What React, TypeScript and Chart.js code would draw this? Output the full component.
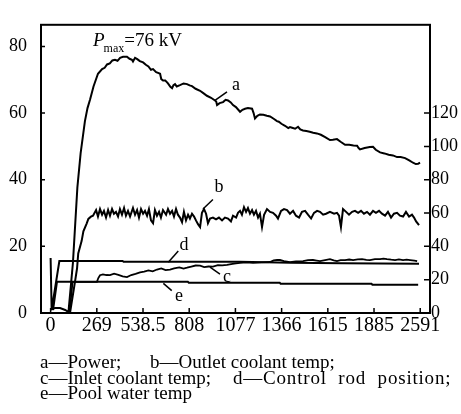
import React, { useEffect, useRef } from "react";
import { Chart, registerables } from "chart.js";

Chart.register(...registerables);

const FONT = '"Liberation Serif", "Times New Roman", serif';

// x axis: time (s); tick positions and printed labels
const xTickTimes = [0, 269.25, 538.5, 807.75, 1077, 1346.25, 1615.5, 1884.75, 2154];
const xTickLabels = ["0", "269", "538.5", "808", "1077", "1366", "1615", "1885", "2591"];
const leftTicks = [0, 20, 40, 60, 80];
const rightTicks = [0, 20, 40, 60, 80, 100, 120];

// a — Power (kW), left axis
const powerSeries: number[][] = [
  [0, 1.0], [25, 1.5], [55, 1.5], [85, 0.9], [104, 0.3], [130, 15], [156, 37.7], [175, 48], [200, 57.6],
  [215, 61.5], [230, 64.1], [250, 68], [276, 71.8], [300, 73.2], [315, 73.6], [329, 74.6], [345, 74.9],
  [360, 75.8], [375, 76.0], [390, 75.7], [405, 76.6], [422, 76.9], [445, 76.9], [460, 76.3], [474, 76.0],
  [480, 75.5], [492, 76.6], [505, 76.2], [520, 75.6], [539, 75.2], [555, 74.5], [570, 74.0], [585, 73.0],
  [597, 73.2], [615, 72.3], [630, 72.0], [638, 71.8], [645, 70.2], [655, 69.8], [668, 69.8], [684, 68.9],
  [698, 67.9], [708, 67.5], [716, 68.4], [725, 68.7], [735, 68.0], [754, 68.4], [775, 68.9], [795, 68.7],
  [810, 68.3], [824, 68.1], [845, 67.3], [871, 66.7], [890, 66.0], [911, 65.2], [935, 64.6], [958, 63.8],
  [965, 63.5], [970, 62.4], [985, 63.0], [1005, 63.3], [1020, 64.0], [1034, 63.8], [1050, 63.2], [1063, 62.4],
  [1080, 61.8], [1104, 60.4], [1118, 61.0], [1133, 61.3], [1150, 61.5], [1174, 61.3], [1183, 60.0], [1191, 58.4],
  [1205, 59.2], [1220, 59.6], [1240, 59.5], [1260, 59.2], [1279, 59.0], [1300, 58.3], [1319, 57.6], [1330, 57.4],
  [1345, 56.8], [1366, 56.2], [1385, 55.5], [1395, 55.8], [1407, 55.6], [1425, 55.3], [1442, 55.9], [1455, 55.1],
  [1471, 54.8], [1490, 54.6], [1510, 54.4], [1530, 54.1], [1552, 53.9], [1575, 53.5], [1600, 52.8], [1628, 51.9],
  [1645, 52.0], [1669, 52.2], [1690, 51.4], [1716, 50.5], [1740, 50.5], [1765, 50.3], [1786, 50.2], [1795, 49.5],
  [1803, 49.1], [1830, 49.5], [1860, 49.8], [1879, 49.9], [1895, 49.0], [1920, 48.2], [1945, 47.9], [1970, 47.5],
  [1995, 47.3], [2019, 46.8], [2040, 46.8], [2066, 46.5], [2090, 45.8], [2112, 45.1], [2128, 44.7], [2142, 44.8],
  [2153, 45.1],
];

// b — Outlet coolant temp (°C), right axis
const outletSeries: number[][] = [
  [113, 0], [142, 18.7], [154, 26.7], [161, 35.7], [181, 43.3], [191, 49], [210, 53.7], [220, 56.5], [235, 57.8],
  [247, 58.4], [265, 61.8], [276, 57.9], [288, 62.4], [300, 59.0], [311, 61.3], [323, 57.3], [335, 61.8],
  [346, 58.4], [358, 62.4], [369, 59.6], [381, 60.7], [393, 57.9], [404, 62.4], [416, 59.0], [428, 63.0],
  [439, 58.4], [451, 61.3], [463, 57.9], [480, 63.0], [492, 59.0], [504, 61.8], [515, 57.3], [527, 62.4],
  [539, 59.6], [550, 61.3], [562, 58.4], [573, 62.4], [585, 55.6], [597, 53.9], [608, 61.8], [620, 58.4],
  [632, 60.7], [643, 57.3], [655, 61.8], [673, 59.0], [684, 62.4], [696, 59.6], [708, 61.3], [719, 57.9],
  [731, 62.4], [742, 59.0], [754, 57.3], [766, 54.5], [777, 60.7], [789, 55.6], [801, 59.0], [812, 56.7],
  [824, 59.6], [836, 57.9], [847, 55.6], [859, 53.3], [871, 51.6], [882, 60.1], [894, 62.4], [906, 59.6],
  [917, 53.9], [929, 56.7], [946, 57.3], [964, 56.2], [981, 57.3], [999, 55.6], [1016, 57.3], [1034, 56.7],
  [1051, 55.0], [1063, 58.4], [1081, 57.3], [1092, 60.1], [1104, 61.3], [1115, 59.0], [1127, 63.5], [1139, 60.7],
  [1150, 63.0], [1162, 59.6], [1174, 61.8], [1185, 59.0], [1197, 61.3], [1209, 57.3], [1220, 59.6], [1232, 51.6],
  [1244, 59.0], [1261, 62.4], [1279, 60.7], [1296, 60.1], [1314, 58.4], [1325, 56.7], [1343, 61.3], [1360, 62.4],
  [1378, 61.8], [1395, 59.6], [1413, 61.3], [1430, 58.4], [1448, 57.3], [1465, 60.7], [1483, 61.3], [1500, 59.0],
  [1518, 56.7], [1535, 60.1], [1553, 61.3], [1570, 60.7], [1588, 59.0], [1605, 59.6], [1628, 60.7], [1652, 59.6],
  [1669, 60.1], [1681, 58.4], [1692, 51.6], [1704, 62.4], [1722, 60.7], [1739, 59.0], [1757, 60.7], [1774, 61.3],
  [1792, 60.1], [1809, 61.3], [1826, 59.6], [1844, 60.7], [1861, 59.0], [1879, 61.3], [1896, 60.1], [1914, 61.3],
  [1931, 59.6], [1949, 58.4], [1966, 60.7], [1984, 57.3], [2001, 59.6], [2019, 60.1], [2036, 58.4], [2054, 57.9],
  [2071, 60.7], [2089, 57.9], [2106, 59.0], [2118, 57.3], [2130, 55.0], [2147, 52.7],
];

// c — Inlet coolant temp (°C), right axis
const inletSeries: number[][] = [
  [110, 0], [128, 18.7], [270, 18.7], [278, 21.0], [288, 22.7], [305, 23.2], [325, 22.8], [346, 22.7], [370, 23.6],
  [395, 22.9], [420, 22.0], [445, 21.6], [470, 22.8], [495, 23.5], [521, 24.4], [545, 24.9], [570, 25.6],
  [595, 25.0], [620, 26.1], [645, 26.8], [670, 25.8], [696, 26.1], [720, 26.8], [750, 27.4], [775, 26.7],
  [795, 27.2], [820, 27.9], [845, 28.5], [871, 28.4], [895, 27.5], [920, 27.9], [946, 27.8], [975, 28.7],
  [1000, 28.6], [1028, 28.9], [1060, 29.5], [1080, 29.8], [1104, 30.1], [1140, 30.4], [1180, 30.1], [1230, 30.4],
  [1279, 30.6], [1300, 31.6], [1320, 31.8], [1337, 31.8], [1360, 31.1], [1395, 30.6], [1430, 31.0], [1471, 31.2],
  [1500, 31.7], [1529, 31.8], [1550, 31.5], [1570, 31.2], [1600, 31.8], [1628, 32.3], [1650, 31.6], [1669, 31.2],
  [1690, 31.7], [1716, 31.8], [1740, 32.1], [1763, 31.8], [1790, 32.2], [1815, 32.3], [1840, 31.9], [1861, 31.8],
  [1890, 32.3], [1920, 32.3], [1940, 32.6], [1960, 32.3], [1985, 32.0], [2007, 31.8], [2030, 32.2], [2054, 31.8],
  [2075, 32.0], [2095, 31.8], [2120, 31.5], [2136, 31.2],
];

// d — Control rod position, left axis
const rodSeries: number[][] = [
  [0, 16.5], [6, 0.9], [51, 15.6], [420, 15.6], [425, 15.4], [1100, 15.4], [1400, 15.1], [1700, 14.9], [2147, 14.8],
];

// e — Pool water temp (°C), right axis
const poolSeries: number[][] = [
  [14, 1.7], [37, 18.7], [800, 18.7], [805, 18.2], [1335, 18.2], [1340, 17.6], [1870, 17.6], [1875, 17.0], [2142, 17.0],
];

// curve labels with leader lines: [t, value] on the given axis
const curveLabels = [
  { text: "a", axis: "y", from: [958, 63.8], to: [1028, 66.4], at: [1080, 66.9] },
  { text: "b", axis: "y1", from: [888, 62.4], to: [946, 68.1], at: [981, 72.6] },
  { text: "c", axis: "y1", from: [929, 27.6], to: [987, 23.4], at: [1028, 18.7] },
  { text: "d", axis: "y", from: [686, 15.2], to: [744, 18.6], at: [777, 18.8] },
  { text: "e", axis: "y1", from: [657, 17.8], to: [706, 13.4], at: [748, 7.4] },
];
const peakNote = { at: [247, 80.1], symbol: "P", sub: "max", rest: "=76 kV" };

const legendRows = [
  ["a\u2014Power;", "b\u2014Outlet coolant temp;"],
  ["c\u2014Inlet coolant temp;", "d\u2014Control rod position;"],
  ["e\u2014Pool water temp"],
];
const legendLefts = [[40, 150], [40, 233], [40]];
const legendTops = [353, 369, 384];

const toXY = (arr: number[][]) => arr.map(([x, y]) => ({ x, y }));

const framePlugin = {
  id: "frameAndNotes",
  afterDraw(chart: any) {
    const { ctx, chartArea: a, scales } = chart;
    ctx.save();
    ctx.strokeStyle = "#000";
    ctx.lineWidth = 2;
    ctx.strokeRect(a.left, a.top, a.right - a.left, a.bottom - a.top);
    ctx.lineWidth = 1.5;
    ctx.beginPath();
    leftTicks.forEach((v) => {
      const y = scales.y.getPixelForValue(v);
      ctx.moveTo(a.left, y);
      ctx.lineTo(a.left + 4, y);
    });
    rightTicks.forEach((v) => {
      const y = scales.y1.getPixelForValue(v);
      ctx.moveTo(a.right, y);
      ctx.lineTo(a.right - 6, y);
    });
    xTickTimes.forEach((t) => {
      const x = scales.x.getPixelForValue(t);
      ctx.moveTo(x, a.bottom);
      ctx.lineTo(x, a.bottom - 5);
    });
    ctx.stroke();

    ctx.fillStyle = "#000";
    ctx.font = `18px ${FONT}`;
    ctx.textAlign = "center";
    ctx.textBaseline = "alphabetic";
    curveLabels.forEach((l) => {
      const ys = scales[l.axis];
      ctx.beginPath();
      ctx.moveTo(scales.x.getPixelForValue(l.from[0]), ys.getPixelForValue(l.from[1]));
      ctx.lineTo(scales.x.getPixelForValue(l.to[0]), ys.getPixelForValue(l.to[1]));
      ctx.stroke();
      ctx.fillText(l.text, scales.x.getPixelForValue(l.at[0]), ys.getPixelForValue(l.at[1]));
    });

    const px = scales.x.getPixelForValue(peakNote.at[0]);
    const py = scales.y.getPixelForValue(peakNote.at[1]);
    ctx.textAlign = "left";
    ctx.font = `italic 19px ${FONT}`;
    ctx.fillText(peakNote.symbol, px, py);
    const w1 = ctx.measureText(peakNote.symbol).width;
    ctx.font = `12px ${FONT}`;
    ctx.fillText(peakNote.sub, px + w1 - 1, py + 6);
    const w2 = ctx.measureText(peakNote.sub).width;
    ctx.font = `19px ${FONT}`;
    ctx.fillText(peakNote.rest, px + w1 + w2 - 1, py);
    ctx.restore();
  },
};

export default function App() {
  const ref = useRef<HTMLCanvasElement>(null);
  useEffect(() => {
    if (!ref.current) return;
    const line = (data: number[][], axis: string, width = 2) => ({
      data: toXY(data),
      yAxisID: axis,
      borderColor: "#000",
      borderWidth: width,
      pointRadius: 0,
      tension: 0,
      fill: false,
    });
    const chart = new Chart(ref.current, {
      type: "line",
      data: {
        datasets: [
          line(powerSeries, "y"),
          line(outletSeries, "y1"),
          line(inletSeries, "y1", 1.8),
          line(rodSeries, "y"),
          line(poolSeries, "y1"),
        ],
      },
      options: {
        animation: false,
        responsive: false,
        devicePixelRatio: 1,
        layout: { padding: { top: 8, left: 0, right: 0, bottom: 0 } },
        plugins: { legend: { display: false }, tooltip: { enabled: false } },
        scales: {
          x: {
            type: "linear",
            position: "bottom",
            min: -56,
            max: 2211,
            grid: { display: false, drawTicks: false },
            border: { display: false },
            afterBuildTicks: (s: any) => {
              s.ticks = xTickTimes.map((v) => ({ value: v }));
            },
            afterFit: (s: any) => {
              s.height = 101;
            },
            ticks: {
              autoSkip: false,
              maxRotation: 0,
              padding: 1,
              color: "#000",
              font: { family: FONT, size: 20 },
              callback: (_v: any, i: number) => xTickLabels[i],
            },
          },
          y: {
            position: "left",
            min: 0,
            max: 86.5,
            grid: { display: false, drawTicks: false },
            border: { display: false },
            afterBuildTicks: (s: any) => {
              s.ticks = leftTicks.map((v) => ({ value: v }));
            },
            afterFit: (s: any) => {
              s.width = 41;
            },
            ticks: { padding: 14, color: "#000", font: { family: FONT, size: 18 } },
          },
          y1: {
            position: "right",
            min: 0,
            max: 173,
            grid: { display: false, drawTicks: false },
            border: { display: false },
            afterBuildTicks: (s: any) => {
              s.ticks = rightTicks.map((v) => ({ value: v }));
            },
            afterFit: (s: any) => {
              s.width = 31;
            },
            ticks: { padding: 1, color: "#000", font: { family: FONT, size: 18 } },
          },
        },
      },
      plugins: [framePlugin],
    } as any);
    return () => chart.destroy();
  }, []);

  return (
    <div style={{ position: "absolute", left: 0, top: 0, width: 461, height: 414, background: "#fff" }}>
      <canvas ref={ref} width={461} height={414} style={{ display: "block", width: 461, height: 414 }} />
      {legendRows.map((row, r) =>
        row.map((txt, k) => (
          <div
            key={`${r}-${k}`}
            style={{
              position: "absolute",
              left: legendLefts[r][k],
              top: legendTops[r],
              fontFamily: FONT,
              fontSize: 19,
              lineHeight: "18px",
              whiteSpace: "nowrap",
              letterSpacing: r === 1 && k === 1 ? "0.8px" : "normal",
              wordSpacing: r === 1 && k === 1 ? "6px" : "normal",
              color: "#000",
            }}
          >
            {txt}
          </div>
        ))
      )}
    </div>
  );
}
